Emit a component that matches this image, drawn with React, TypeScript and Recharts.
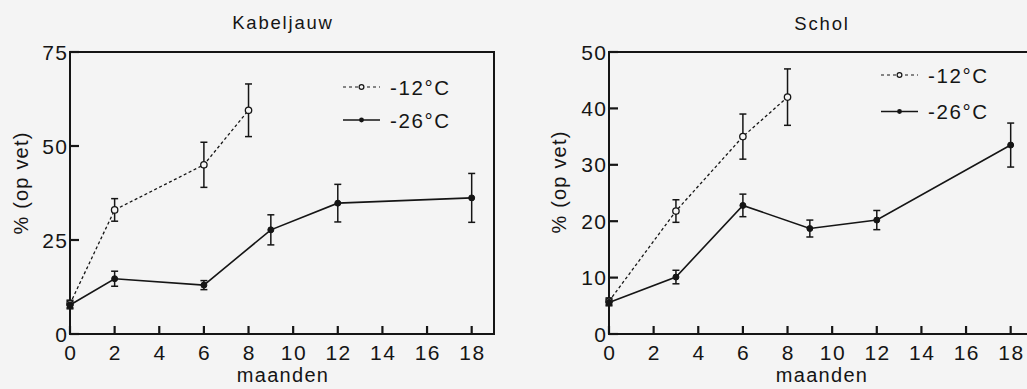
import React from 'react';
import { LineChart, Line, XAxis, YAxis, ErrorBar, ReferenceArea } from 'recharts';

const FONT = '"Liberation Sans", Arial, Helvetica, sans-serif';
const INK = '#151515';
const BG = '#f4f4f4';

const monthTicks = [0, 2, 4, 6, 8, 10, 12, 14, 16, 18];
const seriesNames = ['-12°C', '-26°C'];
const xLabel = 'maanden';
const yLabel = '% (op vet)';

const kabeljauwTitle = 'Kabeljauw';
const kabeljauwYTicks = [0, 25, 50, 75];
const kabeljauwMonths12 = [0, 2, 6, 8];
const kabeljauwValues12 = [8, 33, 45, 59.5];
const kabeljauwErrors12 = [1, 3, 6, 7];
const kabeljauwMonths26 = [0, 2, 6, 9, 12, 18];
const kabeljauwValues26 = [7.7, 14.7, 13, 27.7, 34.8, 36.2];
const kabeljauwErrors26 = [1, 2, 1.2, 4, 5, 6.5];

const scholTitle = 'Schol';
const scholYTicks = [0, 10, 20, 30, 40, 50];
const scholMonths12 = [0, 3, 6, 8];
const scholValues12 = [5.8, 21.8, 35, 42];
const scholErrors12 = [0.6, 2, 4, 5];
const scholMonths26 = [0, 3, 6, 9, 12, 18];
const scholValues26 = [5.6, 10.1, 22.8, 18.7, 20.2, 33.5];
const scholErrors26 = [0.6, 1.2, 2, 1.5, 1.7, 3.9];

const build = (xs: number[], ys: number[], es: number[]) =>
  xs.map((x, i) => ({ x, y: ys[i], err: es[i] }));

const X_MAX = 19;
const X_TICK = 8;
const Y_TICK = 9;

// tickSize is negative so the tick marks point into the plot; the label is shifted back outside
const XTick = (props: any) => {
  const { x, y, payload } = props;
  return (
    <text x={x + 0.8} y={y + X_TICK + 26} textAnchor="middle" fontSize={21} letterSpacing={1.5} fill={INK} fontFamily={FONT}>
      {payload.value}
    </text>
  );
};

const YTick = (props: any) => {
  const { x, y, payload } = props;
  return (
    <text x={x - Y_TICK - 1.5} y={y + 7.5} textAnchor="end" fontSize={21} letterSpacing={1.5} fill={INK} fontFamily={FONT}>
      {payload.value}
    </text>
  );
};

const openDot = (p: any) => (
  <circle key={`o${p.index}`} cx={p.cx} cy={p.cy} r={3.2} fill={BG} stroke={INK} strokeWidth={1.3} />
);
const fillDot = (p: any) => (
  <circle key={`f${p.index}`} cx={p.cx} cy={p.cy} r={3} fill={INK} stroke={INK} strokeWidth={1} />
);

type PanelProps = {
  left: number;
  width: number;
  axisWidth: number;
  marginRight: number;
  yMax: number;
  yTicks: number[];
  s12: { x: number; y: number; err: number }[];
  s26: { x: number; y: number; err: number }[];
};

function Panel({ left, width, axisWidth, marginRight, yMax, yTicks, s12, s26 }: PanelProps) {
  return (
    <div style={{ position: 'absolute', left, top: 0 }}>
      <LineChart width={width} height={389} margin={{ top: 52, right: marginRight, bottom: 0, left: 0 }}>
        <XAxis
          type="number"
          dataKey="x"
          domain={[0, X_MAX]}
          ticks={monthTicks}
          interval={0}
          height={55}
          axisLine={{ stroke: INK, strokeWidth: 2 }}
          tickLine={{ stroke: INK, strokeWidth: 2.2 }}
          tickSize={-X_TICK}
          tickMargin={0}
          tick={(p: any) => <XTick {...p} />}
        />
        <YAxis
          type="number"
          domain={[0, yMax]}
          ticks={yTicks}
          interval={0}
          width={axisWidth}
          axisLine={{ stroke: INK, strokeWidth: 2 }}
          tickLine={{ stroke: INK, strokeWidth: 2.2 }}
          tickSize={-Y_TICK}
          tickMargin={0}
          tick={(p: any) => <YTick {...p} />}
        />
        <ReferenceArea x1={0} x2={X_MAX} y1={0} y2={yMax} fill="none" stroke={INK} strokeWidth={2} ifOverflow="visible" />
        <Line
          data={s12}
          dataKey="y"
          name={seriesNames[0]}
          stroke={INK}
          strokeWidth={1.3}
          strokeDasharray="3 2.5"
          dot={openDot}
          activeDot={false}
          isAnimationActive={false}
        >
          <ErrorBar dataKey="err" direction="y" width={3.5} stroke={INK} strokeWidth={1.5} />
        </Line>
        <Line
          data={s26}
          dataKey="y"
          name={seriesNames[1]}
          stroke={INK}
          strokeWidth={1.6}
          dot={fillDot}
          activeDot={false}
          isAnimationActive={false}
        >
          <ErrorBar dataKey="err" direction="y" width={3.5} stroke={INK} strokeWidth={1.5} />
        </Line>
      </LineChart>
    </div>
  );
}

function LegendBlock({ x0, x1, tx, y1, y2 }: { x0: number; x1: number; tx: number; y1: number; y2: number }) {
  const xm = (x0 + x1) / 2;
  return (
    <g>
      <line x1={x0} y1={y1} x2={x1} y2={y1} stroke={INK} strokeWidth={1.2} strokeDasharray="3 3" />
      <circle cx={xm} cy={y1} r={2.4} fill={BG} stroke={INK} strokeWidth={1.2} />
      <text x={tx} y={y1 + 8} fontSize={20.5} letterSpacing={1.6} fill={INK} fontFamily={FONT}>{seriesNames[0]}</text>
      <line x1={x0} y1={y2} x2={x1} y2={y2} stroke={INK} strokeWidth={1.5} />
      <circle cx={xm} cy={y2} r={2.4} fill={INK} />
      <text x={tx} y={y2 + 7.5} fontSize={20.5} letterSpacing={1.6} fill={INK} fontFamily={FONT}>{seriesNames[1]}</text>
    </g>
  );
}

export default function App() {
  return (
    <div
      style={{
        position: 'absolute',
        left: 0,
        top: 0,
        width: 1027,
        height: 389,
        overflow: 'hidden',
        background: BG,
        fontFamily: FONT,
      }}
    >
      <Panel
        left={0}
        width={520}
        axisWidth={70}
        marginRight={26}
        yMax={75}
        yTicks={kabeljauwYTicks}
        s12={build(kabeljauwMonths12, kabeljauwValues12, kabeljauwErrors12)}
        s26={build(kabeljauwMonths26, kabeljauwValues26, kabeljauwErrors26)}
      />
      <Panel
        left={520}
        width={540}
        axisWidth={89}
        marginRight={27}
        yMax={50}
        yTicks={scholYTicks}
        s12={build(scholMonths12, scholValues12, scholErrors12)}
        s26={build(scholMonths26, scholValues26, scholErrors26)}
      />
      <svg width={1027} height={389} style={{ position: 'absolute', left: 0, top: 0, pointerEvents: 'none' }}>
        <g fontFamily={FONT} fill={INK}>
          <text x={283} y={28.5} textAnchor="middle" fontSize={18.5} letterSpacing={1.8}>{kabeljauwTitle}</text>
          <text x={822} y={29.5} textAnchor="middle" fontSize={18.5} letterSpacing={1.8}>{scholTitle}</text>
          <text x={283} y={381.5} textAnchor="middle" fontSize={20} letterSpacing={1.3}>{xLabel}</text>
          <text x={822} y={382} textAnchor="middle" fontSize={20} letterSpacing={1.3}>{xLabel}</text>
          <text x={28} y={183} textAnchor="middle" fontSize={20} letterSpacing={1.2} transform="rotate(-90 28 183)">{yLabel}</text>
          <text x={566} y={182} textAnchor="middle" fontSize={20} letterSpacing={1.2} transform="rotate(-90 566 182)">{yLabel}</text>
        </g>
        <LegendBlock x0={343} x1={380} tx={390} y1={87} y2={120} />
        <LegendBlock x0={881} x1={918} tx={928} y1={75} y2={111.5} />
      </svg>
    </div>
  );
}
